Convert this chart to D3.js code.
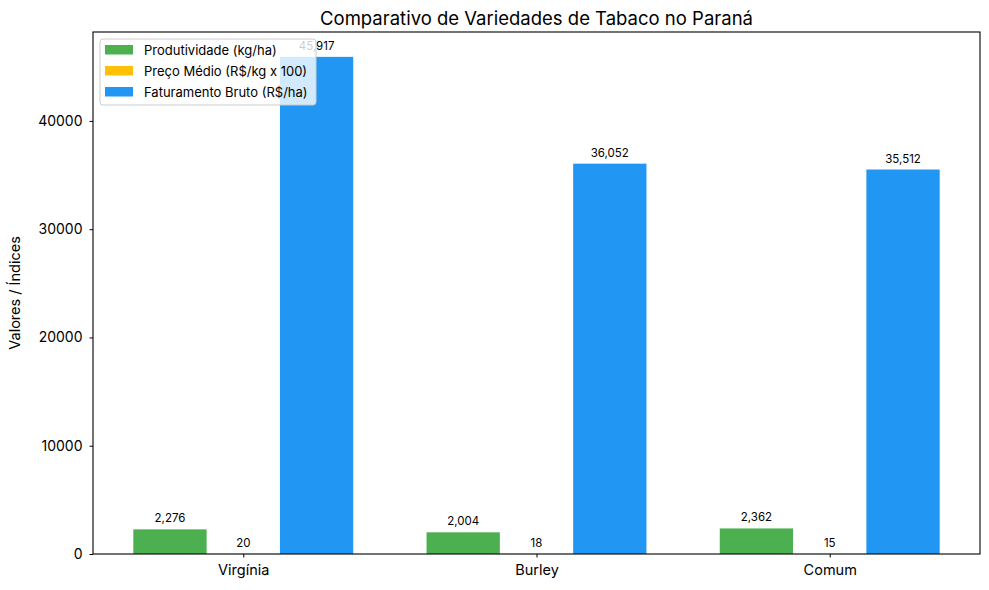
<!DOCTYPE html>
<html><head><meta charset="utf-8">
<script src="https://cdn.jsdelivr.net/npm/d3@7"></script>
<style>body{margin:0;background:#fff;} text{font-family:Inter, "Open Sans", sans-serif;}</style>
</head><body>
<svg id="chart" width="989" height="590"></svg>
<script>
const categories = ["Virgínia", "Burley", "Comum"];
const seriesNames = ["Produtividade (kg/ha)", "Preço Médio (R$/kg x 100)", "Faturamento Bruto (R$/ha)"];
const produtividade = [2276, 2004, 2362];
const precoMedio = [20, 18, 15];
const faturamento = [45917, 36052, 35512];
const yTicks = [0, 10000, 20000, 30000, 40000];
const colors = ["#4CAF50", "#FFC107", "#2196F3"];

const FONT = "Inter, 'Open Sans', sans-serif";
const series = [produtividade, precoMedio, faturamento];
const svg = d3.select("#chart");
const m = {l:93, r:980, t:32, b:554};
const barW = 0.25;
const x = d3.scaleLinear().domain([-0.5125, 2.5125]).range([m.l, m.r]);
const yMax = d3.max(faturamento) * 1.05;
const y = d3.scaleLinear().domain([0, yMax]).range([m.b, m.t]);

// bars
series.forEach((s, si) => {
  const off = (si - 1) * barW;
  const g = svg.append("g");
  g.selectAll("rect").data(s).join("rect")
    .attr("x", (d, i) => x(i + off - barW/2))
    .attr("width", (d, i) => x(i + off + barW/2) - x(i + off - barW/2))
    .attr("y", d => y(d))
    .attr("height", d => y(0) - y(d))
    .attr("fill", colors[si]);
});

// axes
const xAxis = d3.axisBottom(x).tickValues([0,1,2]).tickFormat(i => categories[i]).tickSize(3.5).tickPadding(7);
const gx = svg.append("g").attr("transform", `translate(0,${m.b})`).call(xAxis);
gx.select(".domain").remove();
gx.selectAll("text").attr("font-size", 14.5).attr("fill", "#000").attr("font-family", FONT);
gx.selectAll("line").attr("stroke", "#000");

const yAxis = d3.axisLeft(y).tickValues(yTicks).tickFormat(d => String(d)).tickSize(3.5).tickPadding(7);
const gy = svg.append("g").attr("transform", `translate(${m.l},0)`).call(yAxis);
gy.select(".domain").remove();
gy.selectAll("text").attr("font-size", 14).attr("fill", "#000").attr("font-family", FONT);
gy.selectAll("line").attr("stroke", "#000");

svg.append("rect").attr("x", m.l).attr("y", m.t).attr("width", m.r - m.l).attr("height", m.b - m.t)
  .attr("fill", "none").attr("stroke", "#000").attr("stroke-width", 1.1);

// bar labels
series.forEach((s, si) => {
  const off = (si - 1) * barW;
  svg.append("g").selectAll("text").data(s).join("text")
    .attr("x", (d, i) => x(i + off))
    .attr("y", d => y(d) - 7)
    .attr("text-anchor", "middle")
    .attr("font-size", 11.5)
    .attr("fill", "#000")
    .text(d => d3.format(",")(d));
});

// title and label
svg.append("text").attr("x", (m.l + m.r)/2).attr("y", 25).attr("text-anchor", "middle")
  .attr("font-size", 18.5).text("Comparativo de Variedades de Tabaco no Paraná");
svg.append("text").attr("transform", `translate(20,${(m.t+m.b)/2}) rotate(-90)`).attr("text-anchor", "middle")
  .attr("font-size", 14.5).text("Valores / Índices");

// legend
const lg = svg.append("g").attr("transform", "translate(100,39)");
lg.append("rect").attr("width", 216).attr("height", 66).attr("rx", 3)
  .attr("fill", "#fff").attr("fill-opacity", 0.8).attr("stroke", "#ccc");
seriesNames.forEach((n, i) => {
  lg.append("rect").attr("x", 5).attr("y", 6 + i*21).attr("width", 28).attr("height", 9.5).attr("fill", colors[i]);
  lg.append("text").attr("x", 44).attr("y", 15.5 + i*21).attr("font-size", 13).text(n);
});
</script>
</body></html>
